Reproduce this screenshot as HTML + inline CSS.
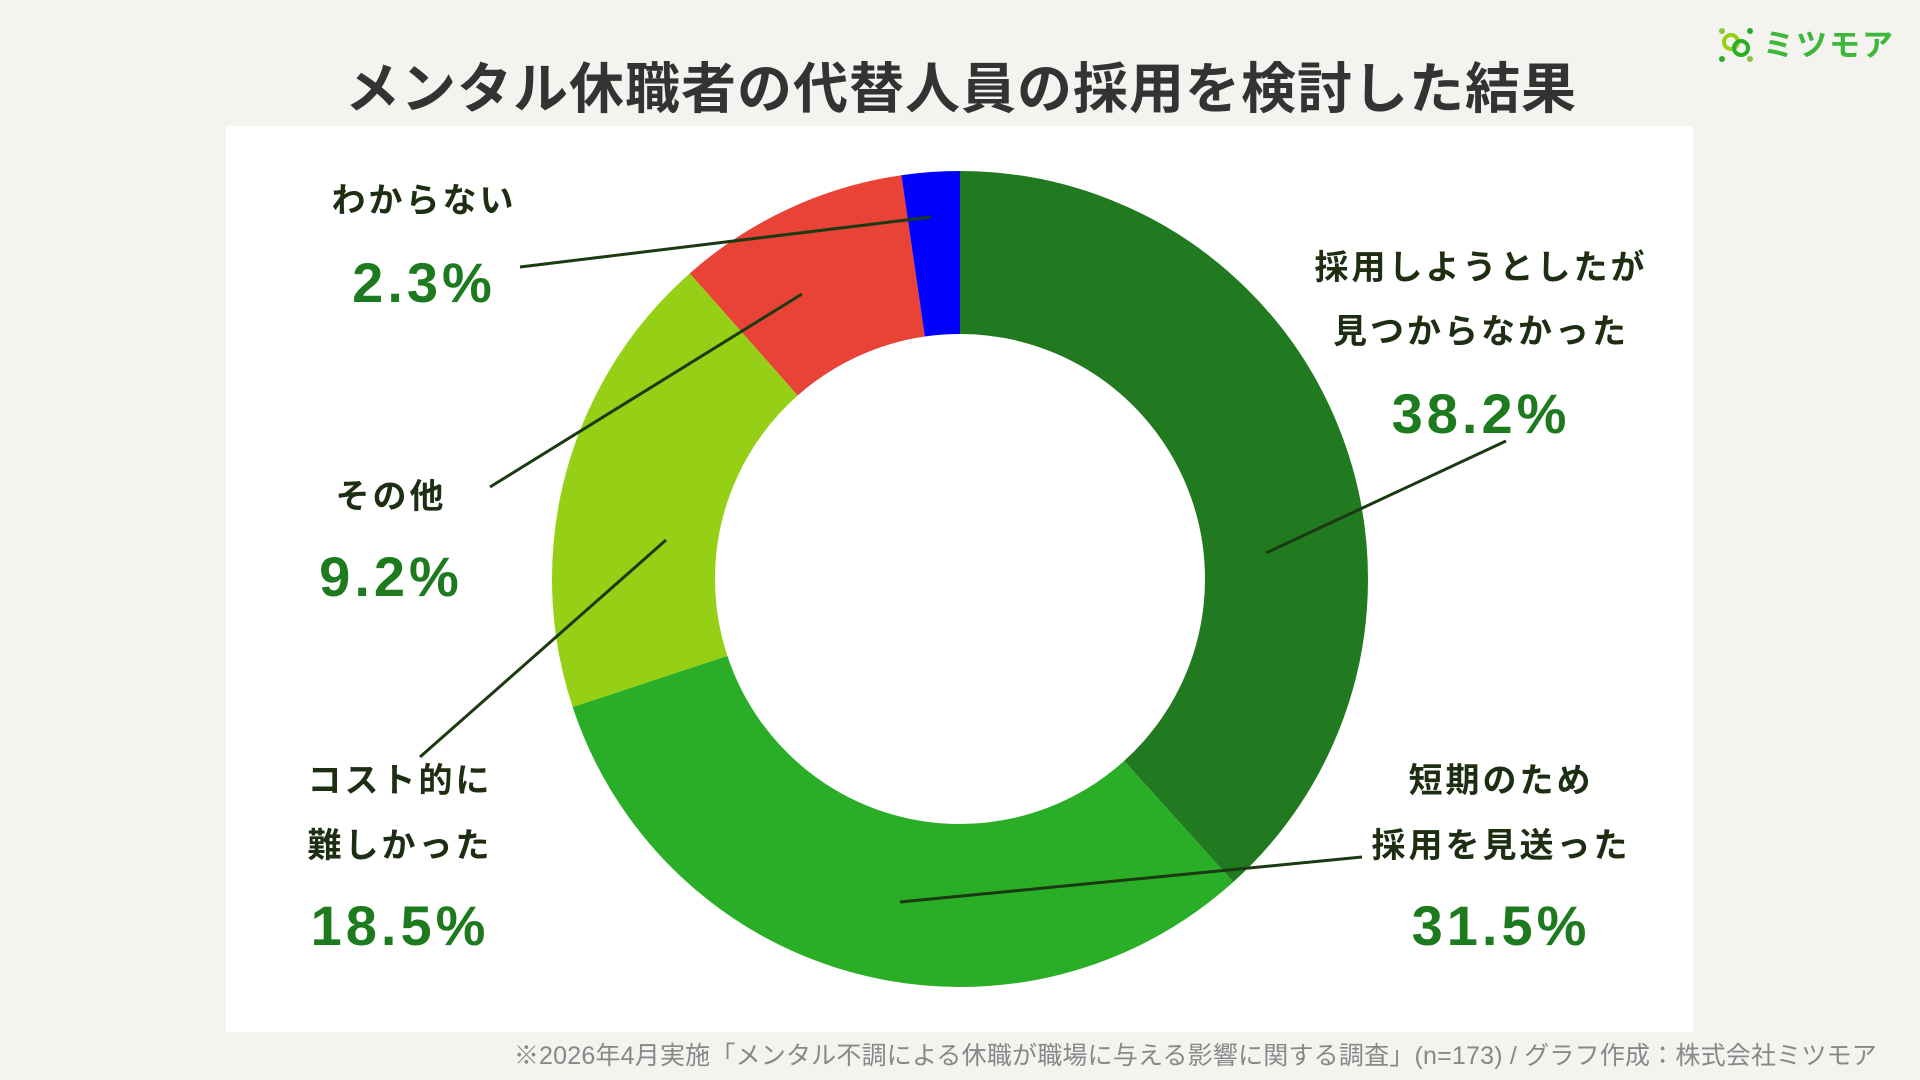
<!DOCTYPE html>
<html><head><meta charset="utf-8"><style>
html,body{margin:0;padding:0;background:#f5f3ef;}
body{width:1920px;height:1080px;overflow:hidden;position:relative;font-family:"Liberation Sans","Noto Sans CJK JP",sans-serif;}
</style></head><body>
<svg width="1920" height="1080" xmlns="http://www.w3.org/2000/svg" style="position:absolute;left:0;top:0">
<rect x="0" y="0" width="1920" height="1080" fill="#f5f3ef"/>
<text x="961" y="108" text-anchor="middle" font-size="55" font-weight="bold" fill="#333" letter-spacing="1" font-family="Liberation Sans, Noto Sans CJK JP, sans-serif">メンタル休職者の代替人員の採用を検討した結果</text>
<g transform="translate(1722,45)">
<circle cx="0" cy="-14" r="3" fill="#8bc43f"/><circle cx="28" cy="-14" r="3" fill="#2aae27"/>
<circle cx="0" cy="14" r="3" fill="#2aae27"/><circle cx="28" cy="14" r="3" fill="#8bc43f"/>
<circle cx="9" cy="-3" r="7" fill="none" stroke="#96d016" stroke-width="4"/>
<circle cx="19" cy="3" r="7" fill="none" stroke="#2aae27" stroke-width="4"/>
</g>
<text x="1763" y="56" font-size="31" font-weight="bold" fill="#3db83a" font-family="Liberation Sans, Noto Sans CJK JP, sans-serif" letter-spacing="2">ミツモア</text>
<rect x="226" y="126" width="1467" height="906" fill="#fff"/>
<g transform="translate(960,579) rotate(-90)" fill="none" stroke-width="163">
<circle r="326.5" stroke="#217a1f" stroke-dasharray="786.0 2051.5" stroke-dashoffset="0"/>
<circle r="326.5" stroke="#2aae27" stroke-dasharray="648.2 2051.5" stroke-dashoffset="-786.0"/>
<circle r="326.5" stroke="#96d016" stroke-dasharray="380.7 2051.5" stroke-dashoffset="-1434.2"/>
<circle r="326.5" stroke="#e84336" stroke-dasharray="189.3 2051.5" stroke-dashoffset="-1814.9"/>
<circle r="326.5" stroke="#0000ff" stroke-dasharray="47.3 2051.5" stroke-dashoffset="-2004.2"/>
</g>
<g stroke="#1b3a12" stroke-width="3">
<line x1="520" y1="267" x2="931" y2="217"/>
<line x1="490" y1="487" x2="802" y2="294"/>
<line x1="420" y1="757" x2="666" y2="540"/>
<line x1="900" y1="902" x2="1362" y2="857"/>
<line x1="1266" y1="553" x2="1506" y2="441"/>
</g>
<g font-family="Liberation Sans, Noto Sans CJK JP, sans-serif" font-weight="bold" text-anchor="middle">
<g font-size="34" fill="#1d2e12" letter-spacing="3">
<text x="424" y="212">わからない</text>
<text x="1481" y="279">採用しようとしたが</text>
<text x="1481" y="343">見つからなかった</text>
<text x="391" y="508">その他</text>
<text x="400" y="792">コスト的に</text>
<text x="400" y="857">難しかった</text>
<text x="1501" y="792">短期のため</text>
<text x="1501" y="857">採用を見送った</text>
</g>
<g font-size="56" fill="#1e7a1e" letter-spacing="4">
<text x="424" y="302">2.3%</text>
<text x="1481" y="433">38.2%</text>
<text x="391" y="596">9.2%</text>
<text x="400" y="945">18.5%</text>
<text x="1501" y="945">31.5%</text>
</g>
</g>
<text x="1877" y="1064" text-anchor="end" font-size="25" letter-spacing="0.2" fill="#888" font-family="Liberation Sans, Noto Sans CJK JP, sans-serif">※2026年4月実施「メンタル不調による休職が職場に与える影響に関する調査」(n=173) / グラフ作成：株式会社ミツモア</text>
</svg>
</body></html>
